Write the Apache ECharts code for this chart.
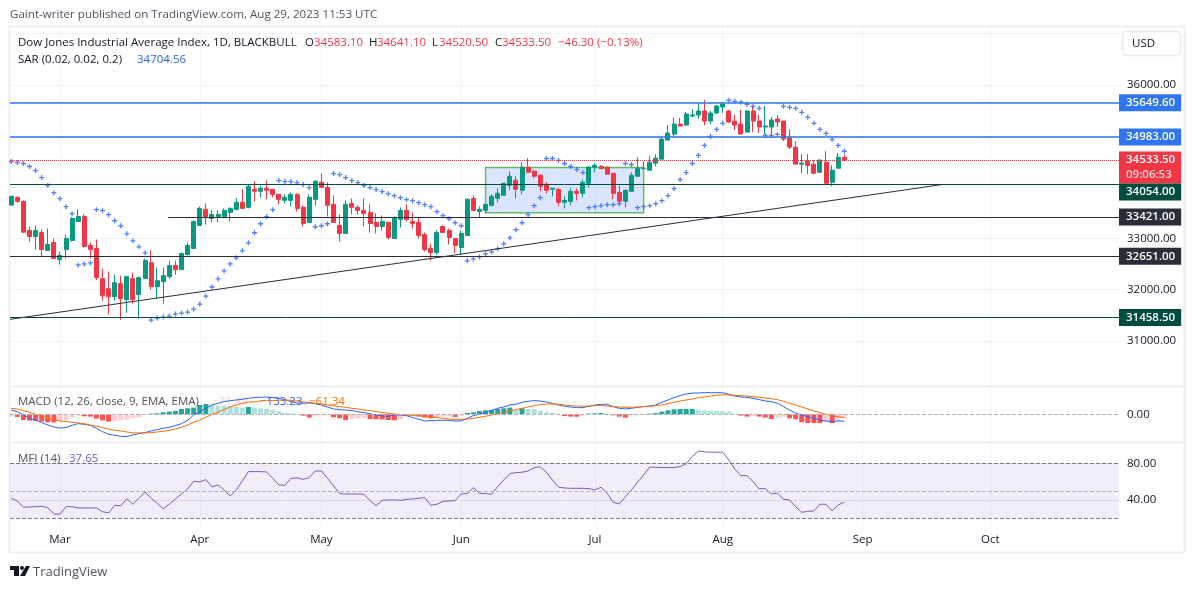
<!DOCTYPE html>
<html><head><meta charset="utf-8">
<style>html,body{margin:0;padding:0;background:#fff}#c{width:1195px;height:589px}</style>
<script src="https://cdn.jsdelivr.net/npm/echarts@6/dist/echarts.min.js"></script>
</head><body><div id="c"></div>
<script>
const FONT = '"Open Sans", "Noto Sans", sans-serif';
const monthTicks = [8,31,51,74,96,117,140,161];
const monthLabels = ['Mar','Apr','May','Jun','Jul','Aug','Sep','Oct'];
const priceGrid = [31000,32000,33000,34000,35000,36000,37000];
const priceTicks = [31000,32000,33000,36000];

const candleOpen = [33653,33804,33725,33157,33039,33117,32765,32921,32588,32784,
32961,33333,33431,32863,32804,32216,32020,31863,32118,31804,
32216,31902,32216,32529,32059,32157,32255,32471,32392,32686,
32804,33255,33569,33392,33431,33431,33510,33569,33706,33608,
33961,33922,33980,33961,33863,33745,33745,33863,33608,33314,
33765,34098,34000,33667,33255,33098,33686,33608,33549,33510,
33314,33235,33314,33000,33373,33549,33333,33314,33078,32804,
32725,33235,33157,33000,32824,33059,33784,33529,33549,33647,
33784,33843,34039,34137,33941,34392,34314,34235,34059,33961,
33961,33706,33725,33922,33882,34078,34392,34412,34392,34275,
33902,33726,33921,34216,34363,34333,34471,34549,34922,35039,
35235,35216,35392,35412,35490,35294,35451,35569,35490,35294,
35235,35078,35490,35294,35177,35177,35333,35294,34961,34784,
34451,34510,34451,34294,34490,34098,34373,34583.1];
const candleClose = [33823,33725,33124,33039,33157,32784,32882,32608,32667,33000,
33392,33431,32843,32784,32235,31882,31863,32137,31824,32255,
31804,32235,32569,32059,32176,32275,32471,32392,32706,32863,
33333,33588,33431,33470,33470,33549,33588,33706,33588,34019,
33922,33980,33941,33863,33765,33804,33863,33588,33294,33804,
34118,34000,33647,33314,33098,33667,33608,33549,33490,33294,
33235,33333,33020,33392,33549,33373,33294,33059,32784,32725,
33118,33118,33020,32863,33098,33765,33549,33569,33667,33824,
33882,34078,34216,33961,34392,34294,34216,34020,33941,33980,
33706,33745,33922,33882,34098,34392,34431,34363,34255,33882,
33726,33941,34235,34373,34373,34490,34569,34941,35059,35235,
35196,35431,35412,35490,35294,35451,35588,35627,35275,35216,
35039,35490,35294,35177,35196,35314,35275,34941,34784,34451,
34471,34431,34275,34530,34078,34333,34588,34533.5];
const candleLow = [33640,33693,33117,32941,32784,32634,32765,32608,32490,32608,
32941,33333,32823,32608,32190,31784,31510,31784,31412,31549,
31725,31431,32216,32000,31824,31725,32216,32294,32392,32667,
32804,33255,33275,33313,33313,33392,33333,33549,33588,33588,
33725,33804,33765,33804,33667,33686,33627,33529,33235,33314,
33647,34000,33431,33314,32941,33098,33471,33471,33235,33118,
33098,33157,32980,33000,33216,33333,33196,33000,32745,32569,
32686,33118,32882,32706,32686,33059,33549,33412,33490,33627,
33706,33843,33941,33784,33863,34294,34176,33922,33882,33824,
33627,33588,33647,33745,33804,34000,34294,34353,34255,33765,
33647,33608,33921,34216,34353,34333,34412,34549,34922,35000,
35196,35196,35373,35333,35216,35235,35431,35451,35255,35118,
35039,35078,35078,35059,35039,35039,35177,34902,34745,34451,
34275,34255,34255,34294,34059,34020,34373,34520.5];
const candleHigh = [33835,33823,33745,33235,33255,33176,33196,33000,32745,33078,
33412,33569,33470,32921,32980,32412,32353,32294,32275,32275,
32333,32255,32608,32765,32431,32431,32569,32569,32725,32921,
33353,33627,33686,33549,33549,33588,33608,33784,33961,34059,
34118,34039,34137,33961,33863,33863,33902,33882,33647,33863,
34137,34274,34098,33843,33471,33745,33784,33647,33784,33667,
33490,33451,33333,33431,33608,33667,33510,33412,33118,32902,
33157,33255,33196,33000,33157,33784,33843,33627,33667,33863,
33980,34078,34314,34216,34490,34569,34333,34255,34098,33980,
33980,33824,33980,33980,34157,34412,34471,34431,34412,34275,
34039,33961,34294,34588,34510,34608,34647,34980,35216,35353,
35353,35471,35529,35647,35706,35490,35608,35667,35510,35412,
35510,35510,35588,35412,35588,35373,35412,35294,35137,34902,
34647,34647,34530,34549,34706,34431,34667,34641.1];
const sarValues = [34504,34484,34465,34406,34327,34190,34033,33896,33778,33622,
33484,32484,32504,32523,33563,33543,33465,33347,33249,33092,
32955,32837,32720,31406,31445,31465,31484,31524,31543,31563,
31622,31720,31876,32053,32210,32367,32504,32622,32759,32916,
33112,33288,33426,33563,34131,34112,34112,34092,34053,33994,
33229,33249,33288,34269,34249,34190,34131,34092,34033,33994,
33955,33916,33876,33837,33798,33759,33739,33700,33661,33622,
33524,33445,33386,33308,33249,32563,32602,32641,32700,32739,
32798,32896,33014,33171,33308,33465,33641,33798,34563,34563,
34524,34465,34406,34347,34288,33602,33622,33641,33661,33661,
33680,34465,34445,33602,33622,33641,33680,33739,33837,33975,
34151,34288,34465,34622,34818,34994,35131,35249,35700,35680,
35661,35622,35582,35543,35014,35014,35033,35582,35562,35543,
35465,35367,35249,35131,35053,34935,34818,34704.56];
const macdLine = [82,51,-13,-76,-108,-158,-203,-241,-260,-253,
-209,-177,-190,-209,-266,-329,-380,-399,-418,-424,
-392,-367,-348,-316,-291,-266,-247,-215,-177,-114,
-13,51,114,177,209,241,260,272,285,304,
317,323,329,317,304,279,241,215,209,215,
203,177,139,101,89,82,70,51,32,13,
-13,-32,-38,-13,-13,-25,-63,-95,-127,
-120,-114,-114,-114,-127,-127,-76,-25,0,38,
76,114,139,177,190,228,247,260,253,234,
209,177,152,139,127,127,152,177,190,190,
146,114,101,114,133,146,158,177,228,272,
317,354,386,405,405,411,411,411,411,380,
348,329,323,304,279,253,241,209,146,82,
19,-13,-44,-76,-108,-127,-139,-127,-133.23];
const signalLine = [114,101,70,38,0,-32,-76,-101,-127,-139,
-152,-165,-177,-203,-228,-253,-279,-304,-316,-335,
-354,-354,-354,-348,-335,-323,-304,-279,-247,-203,
-152,-108,-57,-6,38,89,139,177,209,228,
241,253,266,260,266,272,266,253,234,228,
209,196,177,158,146,133,114,101,82,70,
51,32,19,6,-6,-13,-25,-32,-38,
-57,-63,-76,-89,-95,-101,-89,-76,-57,-38,
-13,6,38,63,89,114,139,165,184,196,
196,190,177,165,158,152,158,165,165,158,
146,139,133,133,139,146,152,165,177,203,
228,253,272,291,317,329,348,361,373,367,
361,354,348,335,323,310,297,279,247,209,
177,139,101,63,32,0,-25,-44,-61.34];
const macdHist = [-44,-50,-108,-120,-125,-139,-152,-155,-127,-101,
-63,-25,-38,-44,-82,-114,-139,-127,-114,-101,
-76,-63,-6,13,19,38,51,63,101,114,
127,177,196,177,165,160,155,146,127,139,
127,114,101,89,63,32,19,6,-25,-63,
-38,-25,-19,-57,-76,-108,-89,-76,-70,-90,
-95,-100,-108,-114,-89,-44,-25,-38,-63,
-76,-50,-48,-44,-50,-25,25,38,63,76,
82,101,114,127,89,114,101,100,63,38,
25,6,-32,-44,-46,-25,13,19,25,19,
-19,-44,-63,-25,-19,-12,13,25,51,76,
95,101,102,103,89,76,63,62,61,51,
13,-25,-44,-32,-44,-63,-89,-63,-50,-76,
-95,-152,-165,-166,-167,-139,-168,-127,-71.89];
const mfiValues = [41.8,38.9,32,32.4,32.7,33.1,31.6,24.7,24.4,32.7,
32.7,31.3,31.3,31.3,31.3,27.3,25.8,34.2,33.5,41.5,
35.3,41.8,48.7,41.8,36.4,30.2,35.6,41.1,46.5,52,
60.4,59.6,62.2,54.2,56.4,50.9,44.4,50.9,60.7,70.9,
70.9,70.9,70.5,63.6,56.4,56,63.6,64,62.5,64.4,
71.6,71.6,63.6,55.6,46.9,46.5,46.5,46.5,46.2,39.3,
33.8,39.6,40,40,39.6,40.7,41.1,41.8,42.5,
34.2,35.3,38.5,38.9,39.3,46.5,46.9,53.5,47.3,46.9,
46.2,54.5,61.8,68.7,69.8,70.2,71.6,75.3,76,70.2,
61.8,53.8,53.1,52.7,52.7,52.7,52.4,50.9,53.8,47.3,
37.5,35.6,43.6,50.9,59.3,67.3,76,75.6,75.3,75.3,
75.3,76.4,79.6,87.3,93.5,92.4,92,92,92,83.6,
73.5,66.5,66.5,60,52,52.7,46.5,47.6,40.7,40,
32.7,26.5,27.6,28,35.3,35.3,28,34.5,37.65];

const levelBlue1 = 35649.6, levelBlue2 = 34983, levelGreen1 = 34054, levelDark1 = 33421, levelDark2 = 32651, levelGreen2 = 31458.5, lastPrice = 34533.5;
const trendFrom = [-0.21, 31421], trendTo = [153.1, 34054];
const boxFrom = [78, 34386], boxTo = [104, 33504];
const levelStart = 25.8;
const X0 = -0.21, X1 = 182.18;

const GREEN='#089981', RED='#f23645', BLUE='#2962ff', ORANGE='#ff6d00', PURPLE='#7e57c2', LBLUE='#2f74f5';
const FS = 11.5;
const idx = a => a.map((v,i)=>[i,v]);
const candles = candleOpen.map((o,i)=>[i,o,candleClose[i],candleLow[i],candleHigh[i]]);

function histColor(p){
  const i=p.dataIndex,v=macdHist[i],pv=i?macdHist[i-1]:v;
  return v>=0?(v>=pv?'#26a69a':'#b2dfdb'):(v<pv?'#ff5252':'#ffcdd2');
}
function hline(y,color,bg,opts){
  opts=opts||{};
  const from=opts.start===undefined?X0:opts.start;
  return [{coord:[from,y],symbol:'none',
    lineStyle:{color:color,width:opts.width||1,type:opts.type||'solid',opacity:1},
    label:{show:true,position:'end',distance:0,formatter:opts.text||y.toFixed(2),
      backgroundColor:bg,color:'#fff',fontFamily:FONT,fontSize:FS,fontWeight:600,
      padding:[1,6,1,7],lineHeight:15,offset:opts.offset||[0,0],rich:opts.rich}},
    {coord:[X1,y]}];
}
const xBase = {type:'value',min:X0,max:X1,axisLine:{show:false},
  axisTick:{show:false,customValues:monthTicks},
  splitLine:{show:true,lineStyle:{color:'#f0f3fa',width:1}}};
const yLabel = {margin:8,padding:[2,0,0,0],color:'#131722',fontFamily:FONT,fontSize:FS,formatter:v=>v.toFixed(2)};
const txt=(x,y,text,color,size)=>({type:'text',x,y,silent:true,z:50,
  style:{text,fill:color,font:(size||FS)+'px '+FONT,textVerticalAlign:'middle',textBaseline:'middle'}});

const option={
  animation:false,backgroundColor:'#fff',
  grid:[
    {left:10,right:76,top:27,height:359},
    {left:10,right:76,top:387,height:55.5},
    {left:10,right:76,top:443,height:84}
  ],
  xAxis:[
    Object.assign({},xBase,{gridIndex:0,axisLabel:{show:false}}),
    Object.assign({},xBase,{gridIndex:1,axisLabel:{show:false}}),
    Object.assign({},xBase,{gridIndex:2,axisLabel:{show:true,customValues:monthTicks,margin:7,color:'#131722',fontFamily:FONT,fontSize:FS,
      formatter:v=>monthLabels[monthTicks.indexOf(Math.round(v))]||''}})
  ],
  yAxis:[
    {gridIndex:0,type:'value',position:'right',min:30119,max:37131,scale:true,axisLine:{show:false},
     axisTick:{show:false,customValues:priceGrid},splitLine:{show:true,lineStyle:{color:'#f0f3fa'}},
     axisLabel:Object.assign({},yLabel,{customValues:priceTicks})},
    {gridIndex:1,type:'value',position:'right',min:-536,max:519,scale:true,axisLine:{show:false},
     axisTick:{show:false,customValues:[0]},splitLine:{show:false},
     axisLabel:Object.assign({},yLabel,{customValues:[0]})},
    {gridIndex:2,type:'value',position:'right',min:10.5,max:102.1,scale:true,axisLine:{show:false},
     axisTick:{show:false,customValues:[40,80]},splitLine:{show:true,lineStyle:{color:'#e8e6ef'}},
     axisLabel:Object.assign({},yLabel,{customValues:[40,80]})}
  ],
  series:[
    {type:'line',xAxisIndex:0,yAxisIndex:0,data:[],z:1,silent:true,
     markArea:{silent:true,itemStyle:{color:'rgba(41,98,255,0.17)',borderColor:'#66bb6a',borderWidth:1.5},
       data:[[{coord:boxFrom},{coord:boxTo}]]}},
    {type:'candlestick',xAxisIndex:0,yAxisIndex:0,data:candles,z:3,barWidth:4.5,silent:true,
     itemStyle:{color:GREEN,color0:RED,borderColor:GREEN,borderColor0:RED,borderWidth:1}},
    {type:'scatter',xAxisIndex:0,yAxisIndex:0,data:idx(sarValues),z:4,silent:true,
     symbol:'path://M1.85 0H3.15V1.85H5V3.15H3.15V5H1.85V3.15H0V1.85H1.85Z',symbolSize:5,itemStyle:{color:BLUE}},
    {type:'line',xAxisIndex:0,yAxisIndex:0,data:[],z:5,silent:true,
     markLine:{silent:true,symbol:'none',animation:false,precision:2,
      data:[
        hline(levelBlue1,LBLUE,LBLUE,{width:1.5}),
        hline(levelBlue2,LBLUE,LBLUE,{width:1.5}),
        hline(lastPrice,RED,RED,{type:'dotted',text:'{a|34533.50}\n{b|09:06:53}',offset:[0,7.5],
           rich:{a:{color:'#fff',fontFamily:FONT,fontSize:FS,fontWeight:600,lineHeight:15},b:{color:'#fcd4d8',fontFamily:FONT,fontSize:FS,lineHeight:15}}}),
        hline(levelGreen1,'#004d40','#004d40',{offset:[0,7.5]}),
        hline(levelDark1,'#2a2e39','#2a2e39',{start:levelStart}),
        hline(levelDark2,'#2a2e39','#2a2e39'),
        hline(levelGreen2,'#004d40','#004d40'),
        [{coord:trendFrom,symbol:'none',lineStyle:{color:'#2a2e39',width:1,type:'solid'},label:{show:false}},{coord:trendTo}]
      ]}},
    {type:'bar',xAxisIndex:1,yAxisIndex:1,data:idx(macdHist),barWidth:5,z:2,silent:true,itemStyle:{color:histColor}},
    {type:'line',xAxisIndex:1,yAxisIndex:1,data:idx(macdLine),z:3,silent:true,showSymbol:false,lineStyle:{color:BLUE,width:1}},
    {type:'line',xAxisIndex:1,yAxisIndex:1,data:idx(signalLine),z:4,silent:true,showSymbol:false,lineStyle:{color:ORANGE,width:1},
     markLine:{silent:true,symbol:'none',animation:false,label:{show:false},lineStyle:{color:'#b2b5be',type:'dashed',width:1},data:[{yAxis:0}]}},
    {type:'line',xAxisIndex:2,yAxisIndex:2,data:idx(mfiValues),z:4,silent:true,showSymbol:false,lineStyle:{color:PURPLE,width:1},
     markArea:{silent:true,itemStyle:{color:'rgba(126,87,194,0.1)'},data:[[{coord:[X0,80]},{coord:[X1,20]}]]},
     markLine:{silent:true,symbol:'none',animation:false,label:{show:false},
       data:[{yAxis:80,lineStyle:{color:'#787b86',type:'dashed',width:1}},
             {yAxis:50,lineStyle:{color:'#b2b5be',type:'dashed',width:1}},
             {yAxis:20,lineStyle:{color:'#787b86',type:'dashed',width:1}}]}}
  ],
  graphic:[
    {type:'rect',silent:true,z:0,shape:{x:9.5,y:26.5,width:1175,height:526},style:{fill:'none',stroke:'#eff0f4',lineWidth:2}},
    {type:'line',silent:true,z:1,shape:{x1:10,y1:386.5,x2:1184,y2:386.5},style:{stroke:'#e8e9ef',lineWidth:1.5}},
    {type:'line',silent:true,z:1,shape:{x1:10,y1:442.5,x2:1184,y2:442.5},style:{stroke:'#e8e9ef',lineWidth:1.5}},
    {type:'rect',silent:true,z:1,shape:{x:1122.5,y:31.5,width:58,height:24,r:4},style:{fill:'#fff',stroke:'#e9ebf1',lineWidth:1.5}},
    txt(1132,44,'USD','#131722'),
    txt(10,15,'Gaint-writer published on TradingView.com, Aug 29, 2023 11:53 UTC','#50535e',11.6),
    txt(18,43,'Dow Jones Industrial Average Index, 1D, BLACKBULL','#131722'),
    txt(305,43,'O','#131722'),txt(314,43,'34583.10',RED),
    txt(369,43,'H','#131722'),txt(377,43,'34641.10',RED),
    txt(432,43,'L','#131722'),txt(439,43,'34520.50',RED),
    txt(495,43,'C','#131722'),txt(502,43,'34533.50',RED),
    txt(558,43,'\u221246.30',RED),txt(597,43,'(\u22120.13%)',RED),
    txt(18,60,'SAR (0.02, 0.02, 0.2)','#131722'),txt(137,60,'34704.56',BLUE),
    txt(18,402,'MACD (12, 26, close, 9, EMA, EMA)','#50535e'),
    Object.assign(txt(212,402,'\u221271.89','#ffcdd2'),{z:0}),
    Object.assign(txt(260,402,'\u2212133.23',BLUE),{z:0}),
    Object.assign(txt(309,402,'\u221261.34',ORANGE),{z:0}),
    txt(18,459,'MFI (14)','#50535e'),txt(69,459,'37.65',PURPLE),
    {type:'polygon',silent:true,shape:{points:[[10,566],[19,566],[19,576],[14,576],[14,570],[10,570]]},style:{fill:'#131722'}},
    {type:'circle',silent:true,shape:{cx:22,cy:568,r:2},style:{fill:'#131722'}},
    {type:'polygon',silent:true,shape:{points:[[26,566],[30,566],[25,576],[20,576]]},style:{fill:'#131722'}},
    txt(33,572,'TradingView','#50535e',13)
  ]
};
echarts.init(document.getElementById('c'),null,{renderer:'canvas'}).setOption(option);
</script></body></html>
